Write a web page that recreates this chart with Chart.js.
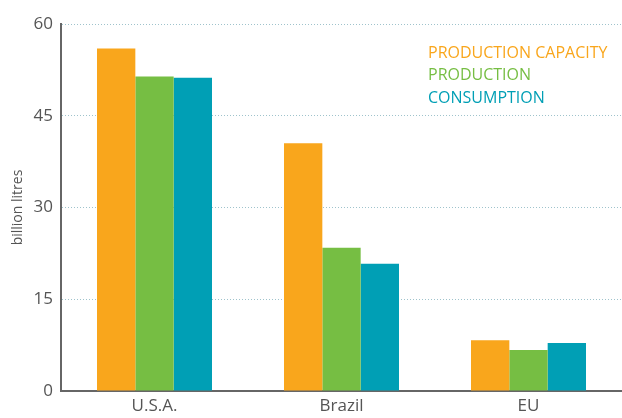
<!DOCTYPE html>
<html><head><meta charset="utf-8">
<script src="https://cdn.jsdelivr.net/npm/chart.js@4/dist/chart.umd.min.js"></script>
<style>html,body{margin:0;padding:0;background:#fff}#wrap{width:622px;height:418px}</style>
</head><body><div id="wrap"><canvas id="c" width="622" height="418"></canvas></div>
<script>
const categories = ['U.S.A.', 'Brazil', 'EU'];
const productionCapacity = [56, 40.5, 8.3];
const production = [51.4, 23.4, 6.7];
const consumption = [51.2, 20.8, 7.85];
const yTicks = [0, 15, 30, 45, 60];
const seriesNames = ['PRODUCTION CAPACITY', 'PRODUCTION', 'CONSUMPTION'];
const colors = ['#F9A61C', '#76BE43', '#009FB5'];

const FONT = "'Open Sans', 'Noto Sans', sans-serif";

const textLegend = {
  id: 'textLegend',
  afterDraw(chart) {
    const ctx = chart.ctx;
    ctx.save();
    ctx.font = '16px ' + FONT;
    ctx.textAlign = 'left';
    ctx.textBaseline = 'middle';
    chart.data.datasets.forEach((ds, i) => {
      ctx.fillStyle = ds.backgroundColor;
      ctx.fillText(ds.label, 428, 53 + i * 22.5);
    });
    ctx.restore();
  }
};

new Chart(document.getElementById('c'), {
  type: 'bar',
  data: {
    labels: categories,
    datasets: [
      { label: seriesNames[0], data: productionCapacity, backgroundColor: colors[0] },
      { label: seriesNames[1], data: production, backgroundColor: colors[1] },
      { label: seriesNames[2], data: consumption, backgroundColor: colors[2] }
    ]
  },
  options: {
    responsive: false,
    animation: false,
    devicePixelRatio: 1,
    layout: { padding: { top: 24, right: 0, left: 10, bottom: 0 } },
    datasets: { bar: { categoryPercentage: 0.615, barPercentage: 1, borderWidth: 0 } },
    plugins: { legend: { display: false }, tooltip: { enabled: false } },
    scales: {
      x: {
        grid: { display: false, drawTicks: false },
        border: { color: '#666', width: 2 },
        ticks: { color: '#555', font: { family: FONT, size: 17 }, padding: 5 },
        afterFit(s) { s.height = 27; }
      },
      y: {
        min: 0, max: 60,
        afterBuildTicks(s) { s.ticks = yTicks.map(v => ({ value: v })); },
        grid: { color: '#9fc3cc', lineWidth: 1, drawTicks: false },
        border: { color: '#666', width: 2, dash: [1, 2] },
        ticks: { color: '#555', font: { family: FONT, size: 17 }, padding: 8 },
        title: { display: true, text: 'billion litres', color: '#555', font: { family: FONT, size: 14 }, padding: { top: 0, bottom: 4 } },
        afterFit(s) { s.width = 51; }
      }
    }
  },
  plugins: [textLegend]
});
</script></body></html>
